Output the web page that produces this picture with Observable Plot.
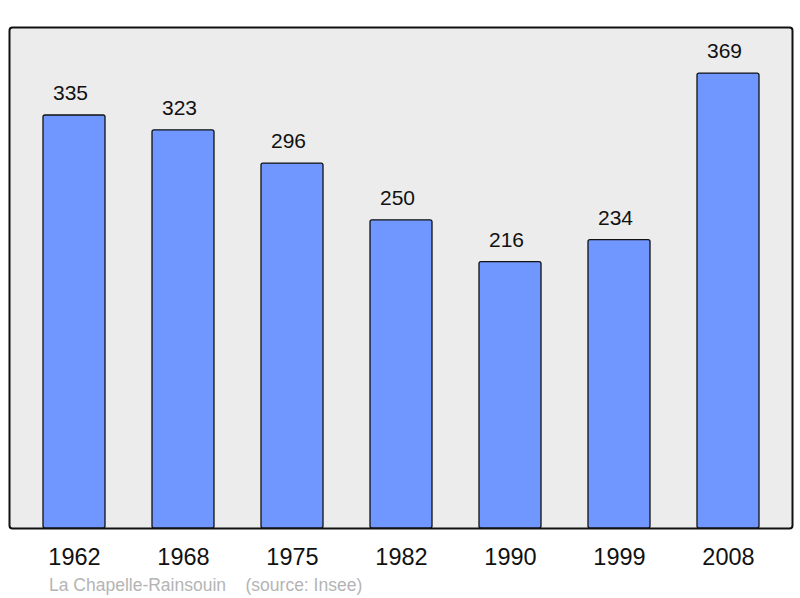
<!DOCTYPE html>
<html>
<head>
<meta charset="utf-8">
<script src="https://cdn.jsdelivr.net/npm/d3@7"></script>
<script src="https://cdn.jsdelivr.net/npm/@observablehq/plot@0.6"></script>
<style>
  html, body { margin: 0; padding: 0; background: #fff; }
  #wrap { position: relative; width: 800px; height: 598px; }
  #caption { position: absolute; left: 49px; top: 575px; font-family: "Liberation Sans", Arial, sans-serif; font-size: 17.5px; color: #b4b4b4; white-space: pre; }
</style>
</head>
<body>
<div id="wrap"><div id="chart"></div><div id="caption">La Chapelle-Rainsouin    (source: Insee)</div></div>
<script>
const years = ["1962", "1968", "1975", "1982", "1990", "1999", "2008"];
const population = [335, 323, 296, 250, 216, 234, 369];
const data = years.map((y, i) => ({year: y, pop: population[i]}));

const chart = Plot.plot({
  width: 800,
  height: 570,
  marginLeft: 9,
  marginRight: 8,
  marginTop: 27,
  marginBottom: 42,
  style: {fontFamily: "'Liberation Sans', Arial, sans-serif", background: "transparent"},
  x: {domain: years, range: [18.5, 784], paddingInner: 0.428, paddingOuter: 0.214, label: null, tickSize: 0},
  y: {domain: [0, 406.4], axis: null},
  marks: [
    Plot.frame({fill: "#ececec", stroke: "#111", strokeWidth: 2, rx: 3}),
    Plot.barY(data, {x: "year", y: "pop", fill: "#7096ff", stroke: "#111", strokeWidth: 1.3, rx: 2}),
    Plot.text(data, {x: "year", y: "pop", text: d => String(d.pop), dy: -22, dx: -4, fontSize: 21, fill: "#111"}),
    Plot.axisX({tickSize: 0, tickPadding: 20, fontSize: 23.5, fill: "#111", label: null})
  ]
});
document.getElementById("chart").appendChild(chart);
</script>
</body>
</html>
